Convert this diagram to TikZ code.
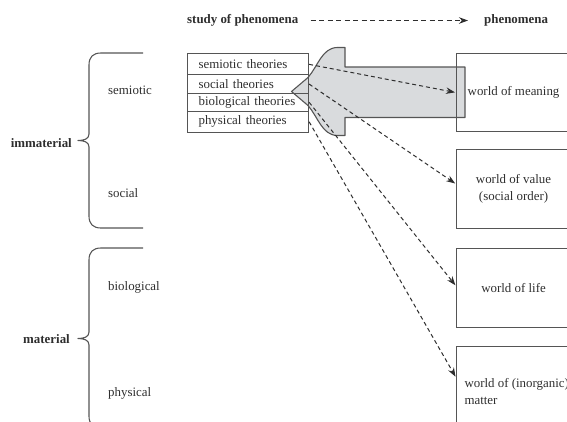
\documentclass[tikz,border=0pt]{standalone}
\usepackage{fontspec}
\setmainfont{Liberation Serif}
\usetikzlibrary{arrows.meta,calc}
\definecolor{ink}{HTML}{2E2E2E}
\definecolor{frame}{HTML}{555555}
\definecolor{shade}{HTML}{D9DBDD}

\begin{document}
\begin{tikzpicture}[x=1pt,y=-1pt,
  every node/.style={font=\fontsize{12.9}{17.5}\selectfont, text=ink},
  theory/.style={draw=frame, line width=1.1pt, anchor=north west, text width=99pt,
    inner xsep=11pt, inner ysep=0pt, align=left},
  world/.style={draw=frame, line width=1.1pt, anchor=north west, minimum width=114pt,
    minimum height=79pt, align=center, inner sep=0pt},
  link/.style={draw=ink, line width=1pt, dash pattern=on 4pt off 3pt,
    -{Stealth[length=9pt,width=6.5pt]}},
  brace/.style={draw=frame, line width=1.1pt, line join=round},
  rowname/.style={anchor=west, inner sep=0pt},
  groupname/.style={anchor=east, inner sep=0pt, font=\fontsize{12.9}{15}\selectfont\bfseries}]

\useasboundingbox (0,0) rectangle (567,421);
\clip (0,0) rectangle (567,421);

% header
\node[anchor=west, inner sep=0pt, font=\fontsize{12.9}{15}\selectfont\bfseries] (hs) at (187,20.5) {study of phenomena};
\node[anchor=west, inner sep=0pt, font=\fontsize{12.9}{15}\selectfont\bfseries] (hp) at (484,20.5) {phenomena};
\draw[link, dash pattern=on 5pt off 3.5pt, shorten <=12pt, shorten >=16pt] (hs.east) -- (hp.west);

% broad grey arrow pointing at the theories
\draw[draw=frame, fill=shade, line width=1.1pt, line join=round]
  (291.5,91.5) -- (308,77.5) .. controls (318,66) and (322,48) .. (337,47.5)
  -- (345,47.5) -- (345,67) -- (465,67) -- (465,117.5) -- (345,117.5) -- (345,135.5)
  -- (337,135.5) .. controls (322,135) and (318,117) .. (308,105.5) -- cycle;

% theories
\node[theory, minimum height=21pt]   (t1) at (187,53.3)  {semiotic theories};
\node[theory, minimum height=18.4pt] (t2) at (187,74.3)  {social theories};
\node[theory, minimum height=18pt]   (t3) at (187,92.7)  {biological theories};
\node[theory, minimum height=21pt]   (t4) at (187,110.7) {physical theories};

% worlds
\node[world, minimum height=78pt] (w1) at (456,53)  {world of meaning};
\node[world] (w2) at (456,149) {world of value\\(social order)};
\node[world] (w3) at (456,248) {world of life};
\node[world, minimum height=90pt, inner xsep=8pt, align=left]
  (w4) at (456,346) {world of (inorganic)\\matter};

% links from theories to worlds
\draw[link, shorten >=1pt] (t1.east) -- (w1.west);
\draw[link, shorten >=1pt] (t2.east) -- ($(w2.west)+(0,-5)$);
\draw[link, shorten >=1pt] (t3.east) -- ($(w3.west)+(0,-2)$);
\draw[link, shorten >=1pt] (t4.east) -- ($(w4.west)+(0,-14)$);

% braces
\draw[brace] (143,53) -- (101,53) .. controls (93,53) and (89,57) .. (89,65)
  -- (89,134) .. controls (89,139) and (84,140.5) .. (78,140.5)
  .. controls (84,140.5) and (89,142) .. (89,147)
  -- (89,216) .. controls (89,224) and (93,228) .. (101,228) -- (143,228);
\draw[brace] (143,248) -- (101,248) .. controls (93,248) and (89,252) .. (89,260)
  -- (89,332) .. controls (89,337) and (84,338.5) .. (78,338.5)
  .. controls (84,338.5) and (89,340) .. (89,345)
  -- (89,416) .. controls (89,424) and (93,428) .. (101,428) -- (143,428);

% group and row names
\node[groupname] (gi) at (72,143) {immaterial};
\node[groupname] (gm) at (70,339) {material};
\node[rowname] (r1) at (108,90)  {semiotic};
\node[rowname] (r2) at (108,193) {social};
\node[rowname] (r3) at (108,287) {biological};
\node[rowname] (r4) at (108,393) {physical};

\end{tikzpicture}
\end{document}
